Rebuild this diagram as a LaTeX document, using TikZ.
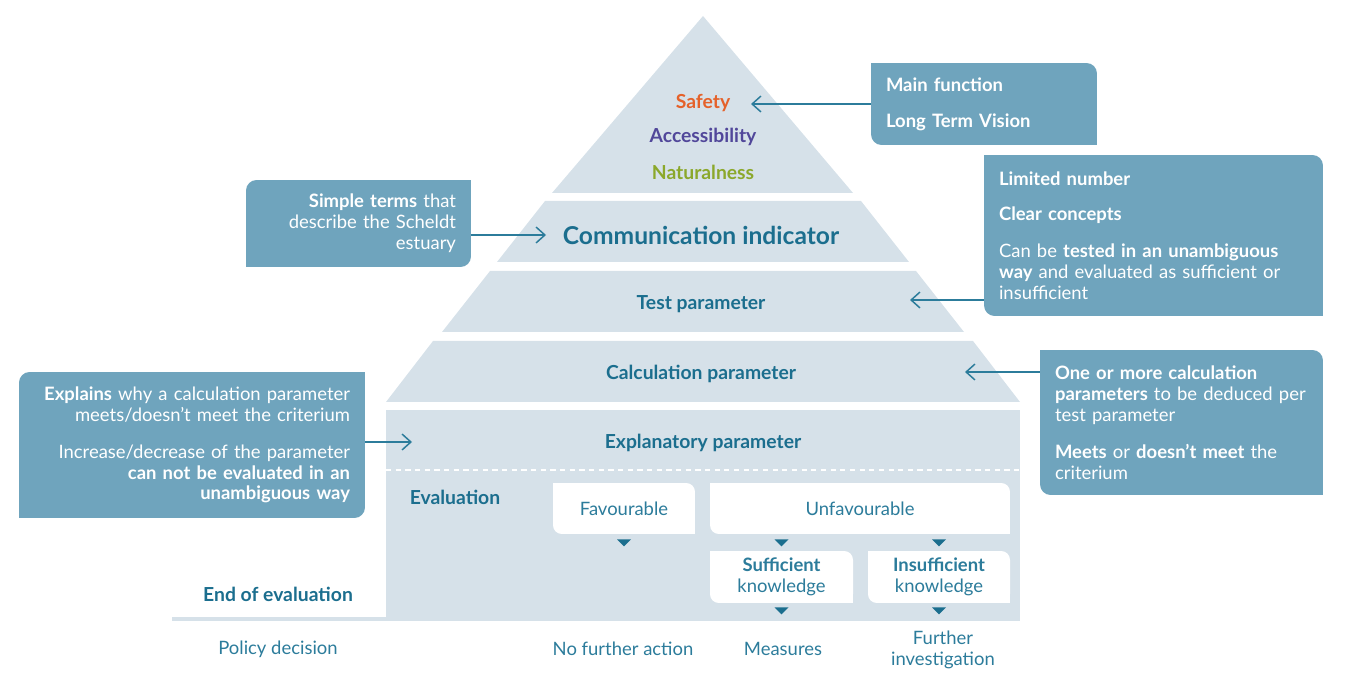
\documentclass[tikz,border=0pt]{standalone}
\usepackage{fontspec}
\setmainfont{Lato}
\usetikzlibrary{arrows.meta}
\usetikzlibrary{positioning}

\definecolor{pyramid}{HTML}{D6E1E9}
\definecolor{callout}{HTML}{6FA4BD}
\definecolor{deepteal}{HTML}{1B6E8E}
\definecolor{softteal}{HTML}{2C7C9B}
\definecolor{safetyc}{HTML}{E5622B}
\definecolor{accessc}{HTML}{51479A}
\definecolor{naturec}{HTML}{8BA82B}

\tikzset{
	band/.style={fill=pyramid},
	level/.style={text=deepteal, font=\bfseries\fontsize{11}{13}\selectfont},
	note/.style={fill=callout, text=white, rounded corners=6pt, inner xsep=0.3cm, inner ysep=0pt, font=\fontsize{10.5}{11.9}\selectfont},
	noteL/.style={note, align=right},
	noteR/.style={note, align=left},
	choice/.style={fill=white, text=softteal, rounded corners=5pt, inner sep=0pt, align=center, font=\fontsize{10.5}{11.9}\selectfont},
	outcome/.style={text=softteal, align=center, font=\fontsize{10.5}{11.9}\selectfont},
	pointer/.style={draw=softteal, line width=0.85pt, -{Straight Barb[length=5pt, width=9pt]}},
	marker/.style={fill=deepteal}
}

\begin{document}
\begin{tikzpicture}[x=0.02cm, y=-0.02cm]
		\useasboundingbox (0,0) rectangle (1351,695);

		% pyramid
		\fill[band] (703,16) -- (853,193) -- (552,193) -- cycle;
		\fill[band] (545,201) -- (861,201) -- (909,262) -- (497,262) -- cycle;
		\fill[band] (490,271) -- (916,271) -- (964,332) -- (442,332) -- cycle;
		\fill[band] (433,341) -- (973,341) -- (1020,402) -- (386,402) -- cycle;
		\fill[band] (386,410) rectangle (1020,620);
		\draw[pyramid, line width=2.3pt] (172,619) -- (1020,619);
		\draw[white, line width=0.7pt, dash pattern=on 3pt off 2.5pt] (386,470) -- (1020,470);

		\path
		(703,103) node[level, text=safetyc] (safety) {Safety}
		(703,137) node[level, text=accessc] (access) {Accessibility}
		(703,172) node[level, text=naturec] (nature) {Naturalness}
		(701,235) node[level, font=\bfseries\fontsize{14}{16}\selectfont] (comm) {Communication indicator}
		(701,304) node[level] (test) {Test parameter}
		(701,374) node[level] (calc) {Calculation parameter}
		(703,443) node[level] (explan) {Explanatory parameter}
		(455,497) node[level] (eval) {Evaluation}
		(278,594) node[level] (endeval) {End of evaluation};

		% callouts
		\node[noteR, text width=3.92cm, minimum height=1.64cm] (main) at (984,104)
			{\textbf{Main function}\\[8.5pt]\textbf{Long Term Vision}};
		\node[noteL, text width=3.9cm, minimum height=1.74cm] (simple) at (358.5,223.5)
			{\textbf{Simple terms} that\\describe the Scheldt\\estuary};
		\node[noteR, text width=6.18cm, minimum height=3.22cm] (limited) at (1153.5,235.5)
			{\textbf{Limited number}\\[8.5pt]\textbf{Clear concepts}\\[9pt]Can be \textbf{tested in an unambiguous}\\\textbf{way} and evaluated as sufficient or\\insufficient};
		\node[noteR, text width=5.06cm, minimum height=2.9cm] (more) at (1181.5,422.5)
			{\textbf{One or more calculation}\\\textbf{parameters} to be deduced per\\test parameter\\[9pt]\textbf{Meets} or \textbf{doesn’t meet} the\\criterium};
		\node[noteL, text width=6.32cm, minimum height=2.92cm] (expl) at (192,445)
			{\textbf{Explains} why a calculation parameter\\meets/doesn’t meet the criterium\\[9pt]Increase/decrease of the parameter\\\textbf{can not be evaluated in an}\\\textbf{unambiguous way}};

		% square corners
		\fill[callout] (main.north west) rectangle ++(12,12);
		\fill[callout] (main.south east) rectangle ++(-12,-12);
		\fill[callout] (limited.north west) rectangle ++(12,12);
		\fill[callout] (limited.south east) rectangle ++(-12,-12);
		\fill[callout] (more.north west) rectangle ++(12,12);
		\fill[callout] (more.south east) rectangle ++(-12,-12);
		\fill[callout] (simple.north east) rectangle ++(-12,12);
		\fill[callout] (simple.south west) rectangle ++(12,-12);
		\fill[callout] (expl.north east) rectangle ++(-12,12);
		\fill[callout] (expl.south west) rectangle ++(12,-12);

		\coordinate (tipSafety) at (751,104);
		\coordinate (tipComm) at (546,235);
		\coordinate (tipTest) at (910,300);
		\coordinate (tipCalc) at (965,372);
		\coordinate (tipExpl) at (412,442);

		\draw[pointer] (main.west) -- (tipSafety);
		\draw[pointer] (simple.east |- tipComm) -- (tipComm);
		\draw[pointer] (limited.west |- tipTest) -- (tipTest);
		\draw[pointer] (more.west |- tipCalc) -- (tipCalc);
		\draw[pointer] (expl.east |- tipExpl) -- (tipExpl);

		% evaluation boxes
		\node[choice, minimum width=2.84cm, minimum height=1.02cm] (fav) at (624,508.5) {Favourable};
		\node[choice, minimum width=6cm, minimum height=1.02cm] (unfav) at (860,508.5) {Unfavourable};
		\node[choice, minimum width=2.86cm, minimum height=1.04cm] (suff) at (781.5,577) {\textbf{Sufficient}\\knowledge};
		\node[choice, minimum width=2.84cm, minimum height=1.04cm] (insuff) at (939,577) {\textbf{Insufficient}\\knowledge};

		\fill[white] (fav.north west) rectangle ++(10,10);
		\fill[white] (fav.south east) rectangle ++(-10,-10);
		\fill[white] (unfav.north west) rectangle ++(10,10);
		\fill[white] (unfav.south east) rectangle ++(-10,-10);
		\fill[white] (suff.north west) rectangle ++(10,10);
		\fill[white] (suff.south east) rectangle ++(-10,-10);
		\fill[white] (insuff.north west) rectangle ++(10,10);
		\fill[white] (insuff.south east) rectangle ++(-10,-10);

		\fill[marker] (fav.south) ++(-7,5) -- ++(14,0) -- ++(-7,7) -- cycle;
		\fill[marker] (unfav.south -| suff) ++(-7,5) -- ++(14,0) -- ++(-7,7) -- cycle;
		\fill[marker] (unfav.south -| insuff) ++(-7,5) -- ++(14,0) -- ++(-7,7) -- cycle;
		\fill[marker] (suff.south) ++(-7,4) -- ++(14,0) -- ++(-7,7) -- cycle;
		\fill[marker] (insuff.south) ++(-7,4) -- ++(14,0) -- ++(-7,7) -- cycle;

		% outcomes
		\path
		(278,649) node[outcome] (policy) {Policy decision}
		(623,649) node[outcome] (nofurther) {No further action}
		(783,649) node[outcome] (measures) {Measures}
		(943,650) node[outcome] (further) {Further\\investigation};
	\end{tikzpicture}
\end{document}
